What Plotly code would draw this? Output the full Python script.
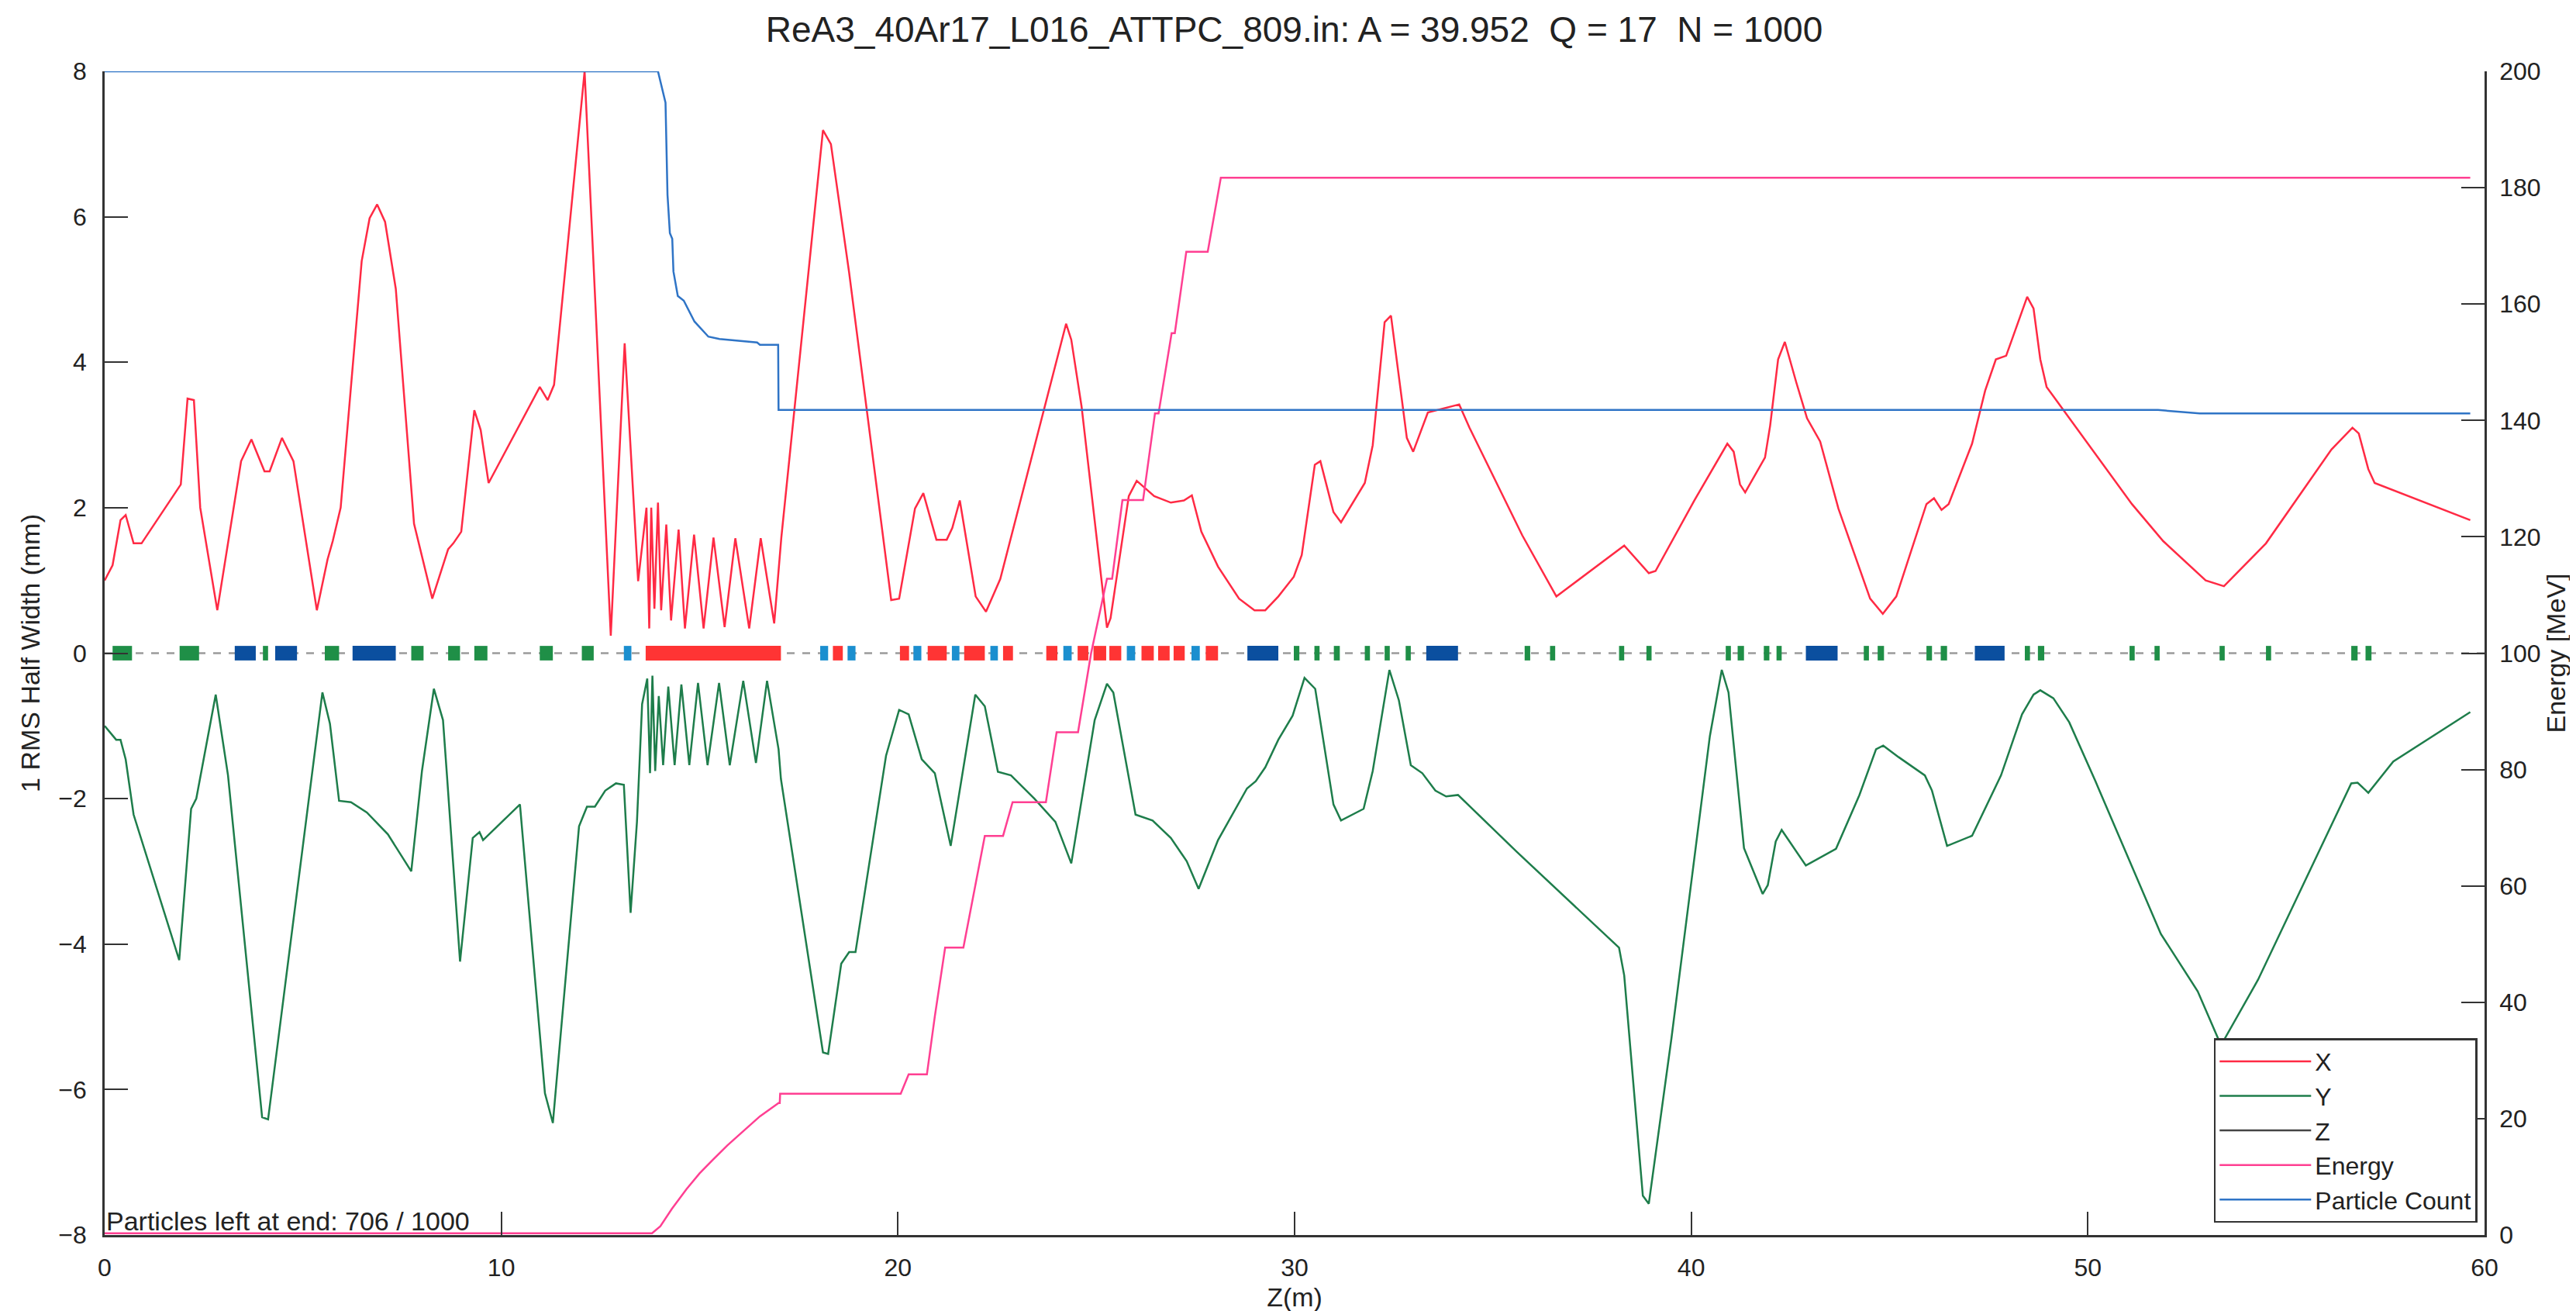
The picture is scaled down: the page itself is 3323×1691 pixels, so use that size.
import plotly.graph_objects as go

# ---------------- data ----------------
x_z = [0.0, 0.2, 0.4, 0.53, 0.73, 0.93, 1.92, 2.09, 2.25, 2.41, 2.84, 3.44, 3.7, 4.03, 4.16, 4.47, 4.76,
       5.35, 5.62, 5.75, 5.95, 6.48, 6.68, 6.87, 7.07, 7.34, 7.8, 8.26, 8.66, 8.79, 8.99, 9.32, 9.48, 9.68,
       10.97, 11.17, 11.33, 12.1, 12.76, 13.11, 13.45, 13.66, 13.73, 13.78, 13.86, 13.95, 14.03, 14.16,
       14.28, 14.47, 14.63, 14.86, 15.10, 15.35, 15.63, 15.90, 16.25, 16.54, 16.88, 17.06, 18.11, 18.31,
       18.77, 19.83, 20.03, 20.43, 20.64, 20.97, 21.23, 21.37, 21.56, 21.96, 22.22, 22.58, 24.24, 24.37,
       24.63, 25.27, 25.36, 25.82, 26.02, 26.46, 26.88, 27.21, 27.41, 27.65, 28.07, 28.60, 28.99, 29.26,
       29.59, 29.98, 30.18, 30.51, 30.65, 30.98, 31.17, 31.77, 31.97, 32.27, 32.43, 32.63, 32.83, 32.99,
       33.36, 34.15, 34.41, 35.74, 36.60, 38.31, 38.93, 39.10, 40.08, 40.91, 41.07, 41.23, 41.36, 41.86,
       41.99, 42.19, 42.36, 42.65, 42.92, 43.25, 43.71, 44.51, 44.83, 45.17, 45.93, 46.12, 46.31, 46.49,
       47.08, 47.41, 47.68, 47.94, 48.47, 48.63, 48.80, 48.96, 51.11, 51.90, 52.97, 53.43, 54.49, 56.14,
       56.67, 56.83, 57.07, 57.23, 59.64]
x_rms = [1.0, 1.21, 1.83, 1.9, 1.51, 1.51, 2.32, 3.5, 3.48, 2.0, 0.59, 2.64, 2.94, 2.5, 2.5, 2.96, 2.64,
         0.59, 1.29, 1.54, 2.0, 5.39, 5.98, 6.17, 5.93, 5.01, 1.78, 0.75, 1.43, 1.51, 1.67, 3.34, 3.07, 2.34,
         3.66, 3.48, 3.69, 8.0, 0.24, 4.26, 0.99, 2.0, 0.34, 2.0, 0.61, 2.07, 0.59, 1.77,
         0.45, 1.70, 0.34, 1.63, 0.34, 1.59, 0.36, 1.58, 0.34, 1.58, 0.41, 1.59, 7.19, 7.0,
         5.23, 0.73, 0.75, 1.99, 2.20, 1.56, 1.56, 1.72, 2.10, 0.78, 0.57, 1.02, 4.53, 4.31,
         3.39, 0.35, 0.48, 2.16, 2.37, 2.16, 2.07, 2.10, 2.17, 1.67, 1.19, 0.75, 0.59, 0.59,
         0.78, 1.05, 1.35, 2.59, 2.64, 1.94, 1.80, 2.34, 2.86, 4.55, 4.64, 3.77, 2.96, 2.77,
         3.31, 3.42, 3.10, 1.62, 0.78, 1.48, 1.10, 1.13, 2.10, 2.88, 2.77, 2.32, 2.21, 2.69,
         3.13, 4.04, 4.28, 3.72, 3.23, 2.91, 1.99, 0.75, 0.54, 0.78, 2.05, 2.13, 1.97, 2.05,
         2.88, 3.61, 4.04, 4.09, 4.90, 4.74, 4.04, 3.66, 2.05, 1.54, 1.00, 0.92, 1.51, 2.80,
         3.10, 3.02, 2.53, 2.34, 1.83]

y_z = [0.0, 0.13, 0.29, 0.40, 0.53, 0.73, 1.88, 2.18, 2.31, 2.80, 3.11, 3.97, 4.12, 5.49, 5.68, 5.91,
       6.21, 6.61, 7.14, 7.73, 8.0, 8.30, 8.53, 8.63, 8.96, 9.28, 9.45, 9.54, 10.47, 11.10, 11.30, 11.96,
       12.16, 12.36, 12.62, 12.89, 13.09, 13.26, 13.42, 13.55, 13.68, 13.75, 13.81, 13.88, 13.97, 14.08,
       14.21, 14.37, 14.54, 14.74, 14.96, 15.20, 15.49, 15.76, 16.10, 16.42, 16.70, 16.99, 17.05, 18.11,
       18.24, 18.57, 18.77, 18.93, 19.70, 20.03, 20.27, 20.60, 20.93, 21.33, 21.95, 22.19, 22.52, 22.85,
       23.44, 23.97, 24.37, 24.96, 25.27, 25.43, 25.99, 26.42, 26.88, 27.28, 27.58, 28.07, 28.80, 29.02,
       29.26, 29.59, 29.95, 30.25, 30.52, 30.98, 31.17, 31.74, 31.97, 32.39, 32.63, 32.93, 33.22, 33.55,
       33.82, 34.12, 35.60, 38.18, 38.31, 38.78, 38.93, 39.5, 40.47, 40.77, 40.94, 41.33, 41.80, 41.93,
       42.13, 42.28, 42.89, 43.65, 44.24, 44.66, 44.84, 45.23, 45.89, 46.07, 46.45, 47.08, 47.81, 48.34,
       48.63, 48.80, 49.13, 49.53, 50.19, 51.84, 52.77, 53.30, 53.43, 54.29, 56.64, 56.80, 57.07, 57.70,
       59.64]
y_rms = [-1.0, -1.08, -1.19, -1.19, -1.46, -2.22, -4.22, -2.14, -2.0, -0.57, -1.68, -6.38, -6.41, -0.54,
         -0.97, -2.03, -2.05, -2.19, -2.49, -3.0, -1.62, -0.49, -0.92, -1.68, -4.24, -2.54, -2.46, -2.57,
         -2.08, -6.05, -6.46, -2.38, -2.11, -2.11, -1.89, -1.79, -1.81, -3.57, -2.32, -0.70, -0.35, -1.65,
         -0.31, -1.62, -0.59, -1.54, -0.46, -1.54, -0.43, -1.54, -0.41, -1.54, -0.41, -1.54, -0.38, -1.51,
         -0.38, -1.32, -1.73, -5.49, -5.51, -4.27, -4.11, -4.11, -1.41, -0.78, -0.84, -1.46, -1.65, -2.65,
         -0.57, -0.73, -1.63, -1.68, -2.0, -2.32, -2.89, -0.92, -0.42, -0.54, -2.22, -2.30, -2.54, -2.86,
         -3.24, -2.57, -1.86, -1.76, -1.57, -1.19, -0.86, -0.34, -0.49, -2.08, -2.30, -2.14, -1.62, -0.23,
         -0.65, -1.54, -1.65, -1.89, -1.97, -1.95, -2.73, -4.05, -4.43, -7.46, -7.57, -5.30, -1.14, -0.23,
         -0.54, -2.68, -3.31, -3.19, -2.59, -2.43, -2.92, -2.69, -1.95, -1.32, -1.27, -1.43, -1.68, -1.89,
         -2.65, -2.51, -1.68, -0.84, -0.57, -0.51, -0.62, -0.95, -1.76, -3.86, -4.65, -5.32, -5.32, -4.49,
         -1.79, -1.78, -1.92, -1.49, -0.81]

energy_z = [0.0, 13.80, 14.01, 14.30, 14.67, 15.0, 15.33, 15.7, 16.06, 16.52, 16.99, 17.02, 17.03, 20.07,
            20.27, 20.73, 20.93, 21.19, 21.65, 22.19, 22.65, 22.89, 23.73, 24.0, 24.54, 24.87, 25.27,
            25.40, 25.66, 26.18, 26.48, 26.57, 26.90, 26.98, 27.27, 27.81, 28.14, 59.64]
energy_mev = [0.3, 0.3, 1.5, 4.5, 7.9, 10.6, 12.9, 15.4, 17.6, 20.4, 22.7, 22.7, 24.3, 24.3,
              27.6, 27.6, 37.6, 49.4, 49.4, 68.6, 68.6, 74.4, 74.4, 86.4, 86.4, 100.0, 112.8,
              112.8, 126.3, 126.3, 141.2, 141.2, 155.0, 155.0, 169.0, 169.0, 181.7, 181.7]

count_z = [0.0, 13.95, 14.14, 14.19, 14.25, 14.31, 14.34, 14.45, 14.6, 14.87, 15.22, 15.5, 16.45, 16.52,
           16.98, 16.99, 51.77, 52.82, 59.64]
count_n = [1000, 1000, 973, 894, 861, 856, 828, 807, 803, 785, 772, 770, 767, 765,
           765, 709, 709, 706, 706]
COUNT_SCALE = 0.2  # particle count drawn on the energy axis (1000 -> 200)

elem_start = [0.20, 1.89, 3.28, 3.99, 4.30, 5.55, 6.25, 7.73, 8.66, 9.32, 10.97, 12.03, 13.09, 13.64,
              18.04, 18.36, 18.73, 20.05, 20.39, 20.75, 21.36, 21.67, 22.33, 22.65, 23.74, 24.17, 24.53,
              24.93, 25.33, 25.77, 26.14, 26.56, 26.95, 27.40, 27.76, 28.81, 29.98, 30.50, 30.99, 31.77,
              32.27, 32.80, 33.32, 35.80, 36.44, 38.18, 38.87, 40.87, 41.17, 41.83, 42.15, 42.89, 44.35,
              44.70, 45.93, 46.29, 47.15, 48.41, 48.74, 51.05, 51.68, 53.32, 54.49, 56.64, 57.00]
elem_end = [0.69, 2.38, 3.81, 4.12, 4.85, 5.91, 7.34, 8.04, 8.96, 9.65, 11.30, 12.33, 13.28, 17.05,
            18.24, 18.61, 18.93, 20.28, 20.59, 21.23, 21.55, 22.19, 22.52, 22.90, 24.02, 24.38, 24.80,
            25.25, 25.63, 25.98, 26.45, 26.85, 27.23, 27.61, 28.07, 29.59, 30.12, 30.63, 31.14, 31.90,
            32.40, 32.93, 34.12, 35.94, 36.57, 38.31, 39.00, 41.00, 41.33, 41.97, 42.28, 43.69, 44.48,
            44.86, 46.07, 46.45, 47.90, 48.54, 48.90, 51.18, 51.81, 53.45, 54.62, 56.80, 57.15]
elem_type = ["G", "G", "B", "G", "B", "G", "B", "G", "G", "G", "G", "G", "L", "R",
             "L", "R", "L", "R", "L", "R", "L", "R", "L", "R", "R", "L", "R",
             "R", "R", "L", "R", "R", "R", "L", "R", "B", "G", "G", "G", "G",
             "G", "G", "B", "G", "G", "G", "G", "G", "G", "G", "G", "B", "G",
             "G", "G", "G", "B", "G", "G", "G", "G", "G", "G", "G", "G"]
ELEM_HALF_HEIGHT = 0.1
elem_colors = {"G": "#1f8f47", "B": "#0b4f9f", "L": "#1b8fcf", "R": "#ff3434"}

beamline_z = [0.0, 60.0]

# ---------------- figure ----------------
FONT = "Liberation Sans, Arial, Helvetica, sans-serif"
TXT = "#222222"

fig = go.Figure()

fig.add_trace(go.Scatter(x=x_z, y=x_rms, mode="lines", name="X",
                         line=dict(color="#ff2a44", width=2.5), yaxis="y"))
fig.add_trace(go.Scatter(x=y_z, y=y_rms, mode="lines", name="Y",
                         line=dict(color="#1e7d4b", width=2.5), yaxis="y"))
fig.add_trace(go.Scatter(x=[None], y=[None], mode="lines", name="Z",
                         line=dict(color="#444444", width=2.5), yaxis="y"))
fig.add_trace(go.Scatter(x=energy_z, y=energy_mev, mode="lines", name="Energy",
                         line=dict(color="#ff3f92", width=2.5), yaxis="y2"))
fig.add_trace(go.Scatter(x=count_z, y=[c * COUNT_SCALE for c in count_n], mode="lines",
                         name="Particle Count", line=dict(color="#2f74c6", width=2.5), yaxis="y2"))

shapes = []
# dashed beamline at zero
shapes.append(dict(type="line", xref="x", yref="y", x0=beamline_z[0], x1=beamline_z[1], y0=0, y1=0,
                   line=dict(color="#9a9a9a", width=2.5, dash="10px,10px"), layer="below"))
for s, e, t in zip(elem_start, elem_end, elem_type):
    shapes.append(dict(type="rect", xref="x", yref="y", x0=s, x1=e,
                       y0=-ELEM_HALF_HEIGHT, y1=ELEM_HALF_HEIGHT,
                       fillcolor=elem_colors[t], line=dict(width=0), layer="below"))

axis_common = dict(ticks="inside", ticklen=30, tickwidth=2, tickcolor="#333333",
                   showline=True, linewidth=2.5, linecolor="#333333", showgrid=False,
                   zeroline=False, tickfont=dict(family=FONT, size=32, color=TXT))

fig.update_layout(
    width=3323, height=1691,
    paper_bgcolor="white", plot_bgcolor="white",
    margin=dict(l=127, r=126, t=84, b=96),
    font=dict(family=FONT, color=TXT),
    title=dict(text="ReA3_40Ar17_L016_ATTPC_809.in: A = 39.952  Q = 17  N = 1000",
               x=0.5, xanchor="center", y=1 - 30 / 1691, yref="container", yanchor="middle",
               font=dict(family=FONT, size=46, color=TXT)),
    xaxis=dict(range=[0, 60], tickvals=[0, 10, 20, 30, 40, 50, 60], ticklabelstandoff=12,
               title=dict(text="Z(m)", font=dict(family=FONT, size=34, color=TXT), standoff=10),
               **axis_common),
    yaxis=dict(range=[-8, 8], tickvals=[-8, -6, -4, -2, 0, 2, 4, 6, 8], ticklabelstandoff=14,
               title=dict(text="1 RMS Half Width (mm)", font=dict(family=FONT, size=34, color=TXT),
                          standoff=14),
               **axis_common),
    yaxis2=dict(range=[0, 200], tickvals=list(range(0, 201, 20)), overlaying="y", side="right",
                ticklabelstandoff=10,
                title=dict(text="Energy [MeV]", font=dict(family=FONT, size=34, color=TXT), standoff=0),
                **axis_common),
    legend=dict(x=0.997, xanchor="right", y=0.0106, yanchor="bottom",
                bgcolor="white", bordercolor="#333333", borderwidth=2.5,
                font=dict(family=FONT, size=32, color=TXT), itemwidth=118,
                tracegroupgap=0),
    showlegend=True,
    shapes=shapes,
    annotations=[dict(text="Particles left at end: 706 / 1000", xref="paper", yref="paper",
                      x=0, y=0.012, xanchor="left", yanchor="middle", showarrow=False,
                      font=dict(family=FONT, size=34, color=TXT))],
)

fig.write_html("out.html")
